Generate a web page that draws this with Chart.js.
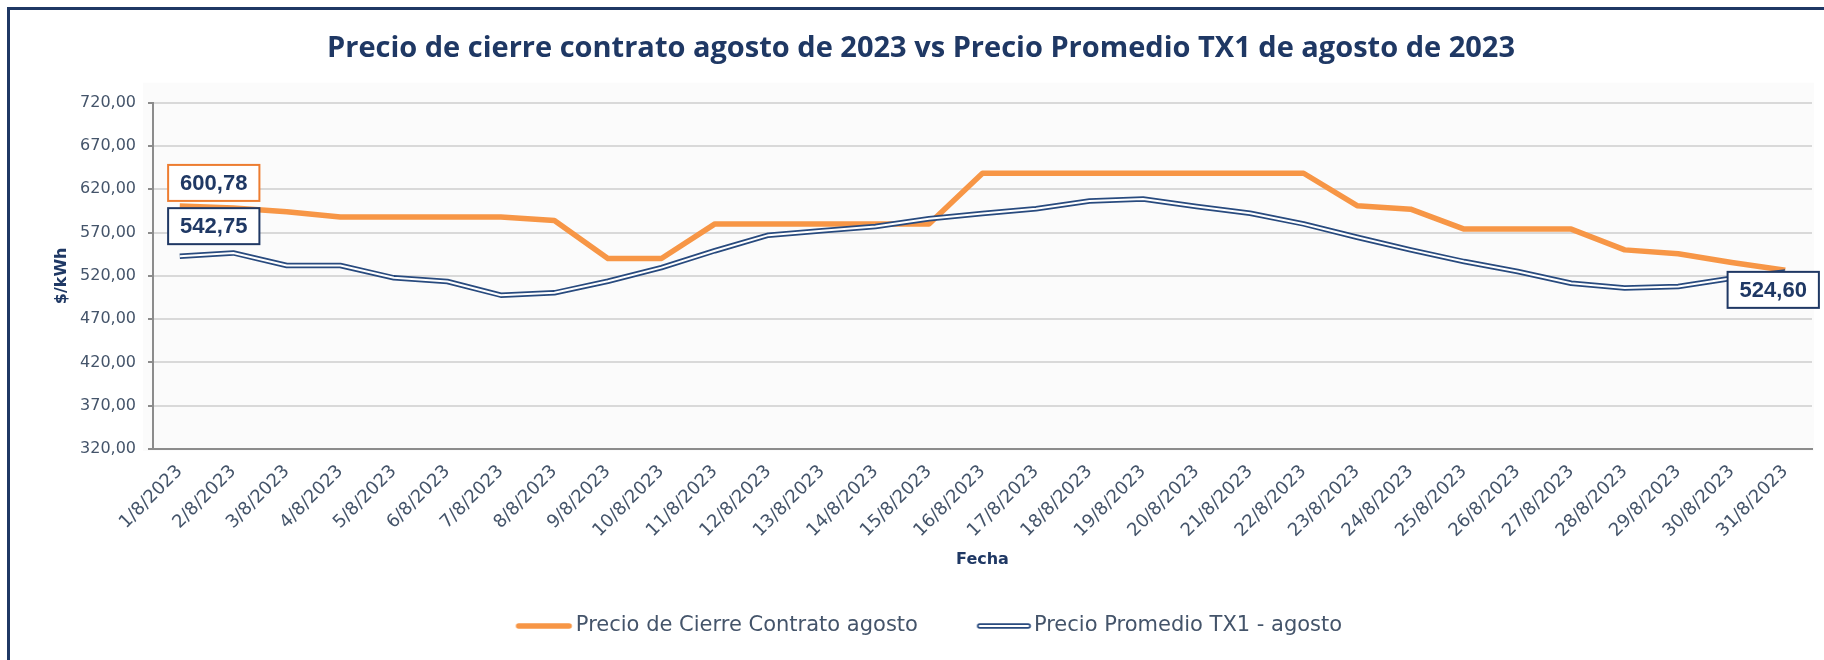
<!DOCTYPE html>
<html>
<head>
<meta charset="utf-8">
<title>Precio de cierre contrato agosto 2023</title>
<script src="https://cdn.jsdelivr.net/npm/chart.js@4.4.0/dist/chart.umd.min.js"></script>
<style>
  body { margin: 0; background: #fff; }
  canvas { display: block; }
</style>
</head>
<body>
<canvas id="chart" width="1824" height="660"></canvas>
<script>
// Data
const fechas = [
    '1/8/2023', '2/8/2023', '3/8/2023', '4/8/2023', '5/8/2023', '6/8/2023', '7/8/2023', '8/8/2023',
    '9/8/2023', '10/8/2023', '11/8/2023', '12/8/2023', '13/8/2023', '14/8/2023', '15/8/2023', '16/8/2023',
    '17/8/2023', '18/8/2023', '19/8/2023', '20/8/2023', '21/8/2023', '22/8/2023', '23/8/2023', '24/8/2023',
    '25/8/2023', '26/8/2023', '27/8/2023', '28/8/2023', '29/8/2023', '30/8/2023', '31/8/2023'
];

const precioCierre = [
    600.78, 598.5, 594.0, 588.0, 588.0, 588.0, 588.0, 584.0,
    540.0, 540.0, 580.0, 580.0, 580.0, 580.0, 580.0, 638.5,
    638.5, 638.5, 638.5, 638.5, 638.5, 638.5, 601.0, 597.0,
    574.0, 574.0, 574.0, 550.0, 545.5, 535.5, 526.5
];

const precioTX1 = [
    542.75, 546.5, 532.0, 532.0, 517.7, 513.5, 497.7, 500.4,
    513.8, 529.5, 549.0, 567.0, 572.0, 577.0, 586.0, 592.0,
    597.6, 606.4, 608.7, 600.0, 592.3, 580.0, 564.6, 550.0,
    536.5, 525.0, 511.5, 506.0, 507.6, 517.3, 524.60
];

const yMin = 320, yMax = 720, yStep = 50;

const serieNames = ['Precio de Cierre Contrato agosto', 'Precio Promedio TX1 - agosto'];

// Colours and fonts
const ORANGE = '#f79646';
const ORANGE_BOX = '#ed7d31';
const NAVY_LINE = '#284a7e';
const NAVY = '#1f3864';
const TEXT = '#44546a';
const AXIS = '#8c8c8c';
const TICK_FONT = 'DejaVu Sans';

function fmt(v) {
    return v.toFixed(2).replace('.', ',');
}

// legend samples as small canvases
function legendSample(kind) {
    const c = document.createElement('canvas');
    c.width = 140;
    c.height = 12;
    const g = c.getContext('2d');
    g.lineCap = 'round';
    if (kind === 'orange') {
        g.strokeStyle = ORANGE;
        g.lineWidth = 5.5;
        g.beginPath();
        g.moveTo(71, 6);
        g.lineTo(121.5, 6);
        g.stroke();
    } else {
        g.strokeStyle = NAVY_LINE;
        g.lineWidth = 5.5;
        g.beginPath();
        g.moveTo(74, 6);
        g.lineTo(122.5, 6);
        g.stroke();
        g.strokeStyle = '#ffffff';
        g.lineWidth = 2;
        g.beginPath();
        g.moveTo(74, 6);
        g.lineTo(122.5, 6);
        g.stroke();
    }
    return c;
}

// frame + light plot background, title nudged a bit right like the original
const framePlugin = {
    id: 'frame',
    afterLayout(chart) {
        chart.titleBlock.left += 30;
    },
    beforeDraw(chart) {
        const ctx = chart.ctx;
        const a = chart.chartArea;
        ctx.save();
        ctx.fillStyle = '#fbfbfb';
        ctx.fillRect(a.left - 10, a.top - 20, a.right - a.left + 12, a.bottom - a.top + 22);
        ctx.strokeStyle = NAVY;
        ctx.lineWidth = 3;
        ctx.strokeRect(8.5, 8.5, 1830, 700);
        ctx.restore();
    }
};

// boxed value labels on the first / last points
const valueLabels = [
    { dataset: 2, index: 0, dx: 34, dy: -23, border: ORANGE_BOX },
    { dataset: 1, index: 0, dx: 34, dy: -30, border: NAVY },
    { dataset: 1, index: 30, dx: -12, dy: 18, border: NAVY }
];

const valueLabelPlugin = {
    id: 'valueLabels',
    afterDatasetsDraw(chart) {
        const ctx = chart.ctx;
        ctx.save();
        ctx.font = 'bold 22px "Liberation Sans", Arial, sans-serif';
        ctx.textAlign = 'center';
        ctx.textBaseline = 'middle';
        valueLabels.forEach(l => {
            const pt = chart.getDatasetMeta(l.dataset).data[l.index];
            const value = chart.data.datasets[l.dataset].data[l.index];
            const text = fmt(value);
            const w = ctx.measureText(text).width + 24;
            const h = 36;
            const cx = pt.x + l.dx;
            const cy = pt.y + l.dy;
            ctx.fillStyle = '#ffffff';
            ctx.fillRect(cx - w / 2, cy - h / 2, w, h);
            ctx.strokeStyle = l.border;
            ctx.lineWidth = 2;
            ctx.strokeRect(cx - w / 2, cy - h / 2, w, h);
            ctx.fillStyle = NAVY;
            ctx.fillText(text, cx, cy + 1);
        });
        ctx.restore();
    }
};

const ctx = document.getElementById('chart').getContext('2d');
new Chart(ctx, {
    type: 'line',
    data: {
        labels: fechas,
        datasets: [
            {
                // white core of the double line
                label: 'inner',
                data: precioTX1,
                borderColor: '#ffffff',
                borderWidth: 2,
                pointRadius: 0,
                tension: 0,
                borderJoinStyle: 'round'
            },
            {
                label: serieNames[1],
                data: precioTX1,
                borderColor: NAVY_LINE,
                borderWidth: 5.5,
                pointRadius: 0,
                tension: 0,
                borderJoinStyle: 'round'
            },
            {
                label: serieNames[0],
                data: precioCierre,
                borderColor: ORANGE,
                borderWidth: 5.5,
                pointRadius: 0,
                tension: 0,
                borderJoinStyle: 'round'
            }
        ]
    },
    options: {
        responsive: false,
        animation: false,
        layout: {
            padding: { left: 0, right: 12, top: 0, bottom: 13.5 }
        },
        plugins: {
            tooltip: { enabled: false },
            title: {
                display: true,
                text: 'Precio de cierre contrato agosto de 2023 vs Precio Promedio TX1 de agosto de 2023',
                color: NAVY,
                font: { family: 'Open Sans', size: 29, weight: 'bold', lineHeight: 1.2 },
                padding: { top: 31.6, bottom: 36.3 }
            },
            legend: {
                position: 'bottom',
                labels: {
                    color: TEXT,
                    font: { family: TICK_FONT, size: 21 },
                    usePointStyle: true,
                    pointStyleWidth: 95.5,
                    padding: 10,
                    generateLabels() {
                        return [
                            { text: serieNames[0], pointStyle: legendSample('orange'), fillStyle: ORANGE, strokeStyle: ORANGE, lineWidth: 0, datasetIndex: 2, fontColor: TEXT },
                            { text: serieNames[1], pointStyle: legendSample('navy'), fillStyle: NAVY_LINE, strokeStyle: NAVY_LINE, lineWidth: 0, datasetIndex: 1, fontColor: TEXT }
                        ];
                    }
                }
            }
        },
        scales: {
            x: {
                offset: true,
                grid: { display: false, drawTicks: false },
                border: { display: true, color: AXIS, width: 2 },
                ticks: {
                    autoSkip: false,
                    minRotation: 45,
                    maxRotation: 45,
                    padding: 12,
                    color: TEXT,
                    font: { family: TICK_FONT, size: 18 }
                },
                title: {
                    display: true,
                    text: 'Fecha',
                    color: NAVY,
                    font: { family: TICK_FONT, size: 16, weight: 'bold' },
                    padding: { top: 0, bottom: 35.9 }
                },
                afterFit(scale) {
                    scale.height = 156.5;
                }
            },
            y: {
                min: yMin,
                max: yMax,
                grid: { color: '#d9d9d9', lineWidth: 2, tickLength: 5, tickColor: AXIS },
                border: { color: AXIS, width: 2 },
                ticks: {
                    stepSize: yStep,
                    padding: 12,
                    color: TEXT,
                    font: { family: TICK_FONT, size: 16 },
                    callback: v => fmt(v)
                },
                title: {
                    display: true,
                    text: '$/kWh',
                    color: NAVY,
                    font: { family: TICK_FONT, size: 16, weight: 'bold' },
                    padding: { top: 52, bottom: 0 }
                },
                afterFit(scale) {
                    scale.width = 153;
                }
            }
        }
    },
    plugins: [framePlugin, valueLabelPlugin]
});
</script>
</body>
</html>
